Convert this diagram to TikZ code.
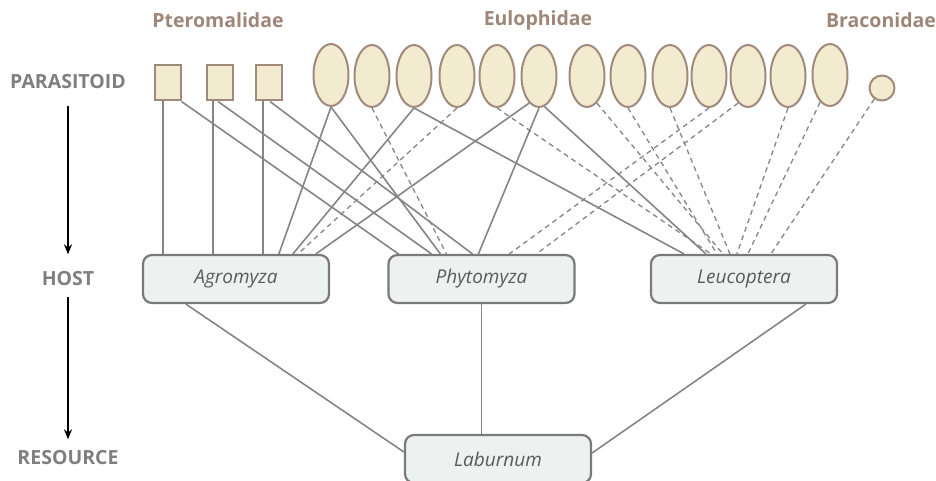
\documentclass[tikz,border=0pt]{standalone}
\usepackage{fontspec}
\setmainfont{Open Sans}
\usetikzlibrary{shapes.geometric,arrows.meta,backgrounds}
\definecolor{shfill}{HTML}{F2EBCF}
\definecolor{shdraw}{HTML}{A08A7C}
\definecolor{famc}{HTML}{9E8779}
\definecolor{lvlc}{HTML}{7F7F80}
\definecolor{hostfill}{HTML}{EDF2F0}
\definecolor{hostdraw}{HTML}{7A7A7A}
\definecolor{edgec}{HTML}{858585}
\definecolor{txtc}{HTML}{5A5A5A}
\begin{document}
\begin{tikzpicture}[x=1pt,y=-1pt,
  sq/.style={rectangle,draw=shdraw,fill=shfill,line width=2pt,minimum width=26pt,minimum height=35pt,inner sep=0pt},
  ell/.style={ellipse,draw=shdraw,fill=shfill,line width=2pt,minimum width=35pt,minimum height=62pt,inner sep=0pt},
  circ/.style={circle,draw=shdraw,fill=shfill,line width=2pt,minimum size=25pt,inner sep=0pt},
  host/.style={rectangle,rounded corners=9pt,draw=hostdraw,fill=hostfill,line width=2.2pt,minimum width=186pt,minimum height=48pt,inner sep=0pt,font=\fontsize{19}{22}\selectfont\itshape,text=txtc},
  fam/.style={font=\fontsize{19.5}{22}\selectfont\bfseries,text=famc},
  lvl/.style={font=\fontsize{19.5}{22}\selectfont\bfseries,text=lvlc},
  sol/.style={draw=edgec,line width=1.6pt},
  dsh/.style={draw=edgec,line width=1.3pt,dash pattern=on 5pt off 4pt},
  lvlarrow/.style={-{Stealth[length=10pt,width=8pt]},line width=1.8pt,black}]
\useasboundingbox (0,0) rectangle (936,481);
% level labels
\node[lvl] (lp) at (68,82) {PARASITOID};
\node[lvl] (lh) at (68,279) {HOST};
\node[lvl] (lr) at (68,458) {RESOURCE};
\draw[lvlarrow] ([yshift=-13pt]lp.south) -- ([yshift=14pt]lh.north);
\draw[lvlarrow] ([yshift=-7pt]lh.south) -- ([yshift=8pt]lr.north);
% family labels
\node[fam] (fp) at (218,20) {Pteromalidae};
\node[fam] (fe) at (538,20) {Eulophidae};
\node[fam] (fb) at (881,20) {Braconidae};
% parasitoids
\node[sq] (S1) at (167.5,83) {};
\node[sq] (S2) at (219.5,83) {};
\node[sq] (S3) at (269,83) {};
\node[ell] (E1) at (331,75) {};
\node[ell] (E2) at (372,76) {};
\node[ell] (E3) at (414,76) {};
\node[ell] (E4) at (457,76) {};
\node[ell] (E5) at (497,76) {};
\node[ell] (E6) at (539,76) {};
\node[ell] (E7) at (587,76) {};
\node[ell] (E8) at (628,76) {};
\node[ell] (E9) at (670,76) {};
\node[ell] (E10) at (709,76) {};
\node[ell] (E11) at (748,76) {};
\node[ell] (E12) at (788,76) {};
\node[ell] (E13) at (830,75) {};
\node[circ] (Br) at (882,88) {};
% hosts
\node[host] (A) at (236,279) {Agromyza};
\node[host] (P) at (481.5,279) {Phytomyza};
\node[host] (L) at (744,279) {Leucoptera};
\node[host] (Lab) at (498,459) {Laburnum};
\begin{pgfonlayer}{background}
% to Agromyza
\draw[sol] ([xshift=-4.5pt]S1.south) -- ([xshift=-4.5pt]S1.south |- A.north);
\draw[sol] ([xshift=-6.5pt]S2.south) -- ([xshift=-6.5pt]S2.south |- A.north);
\draw[sol] ([xshift=-6pt]S3.south) -- ([xshift=-6pt]S3.south |- A.north);
\draw[sol] (E1.south) -- ([xshift=137pt]A.north west);
\draw[sol] (E3.south) -- ([xshift=151pt]A.north west);
\draw[dsh] (E4.south) -- ([xshift=156pt]A.north west);
\draw[sol] (E6.250) -- ([xshift=174pt]A.north west);
% to Phytomyza
\draw[sol] (S1.south east) -- ([xshift=11pt]P.north west);
\draw[sol] ([xshift=-1.5pt]S2.south) -- ([xshift=44pt]P.north west);
\draw[sol] ([xshift=1pt]S3.south) -- ([xshift=85pt]P.north west);
\draw[sol] (E1.south) -- ([xshift=53pt]P.north west);
\draw[dsh] (E2.south) -- ([xshift=59pt]P.north west);
\draw[sol] (E6.south) -- ([xshift=91pt]P.north west);
\draw[dsh] (E10.south) -- ([xshift=122pt]P.north west);
\draw[dsh] (E11.250) -- ([xshift=149pt]P.north west);
% to Leucoptera
\draw[sol] (E3.south) -- ([xshift=34pt]L.north west);
\draw[sol] (E6.280) -- ([xshift=56pt]L.north west);
\draw[dsh] (E5.south) -- ([xshift=61pt]L.north west);
\draw[dsh] (E7.290) -- ([xshift=73pt]L.north west);
\draw[dsh] (E8.south) -- ([xshift=67pt]L.north west);
\draw[dsh] (E9.south) -- ([xshift=80pt]L.north west);
\draw[dsh] (E12.south) -- ([xshift=87pt]L.north west);
\draw[dsh] (E13.250) -- ([xshift=98pt]L.north west);
\draw[dsh] (Br.235) -- ([xshift=121pt]L.north west);
% hosts to resource
\draw[sol] ([xshift=44pt]A.south west) -- ([yshift=7pt]Lab.west);
\draw[sol] (P.south) -- (P.south |- Lab.north);
\draw[sol] ([xshift=156pt]L.south west) -- ([yshift=6pt]Lab.east);
\end{pgfonlayer}
\end{tikzpicture}
\end{document}
